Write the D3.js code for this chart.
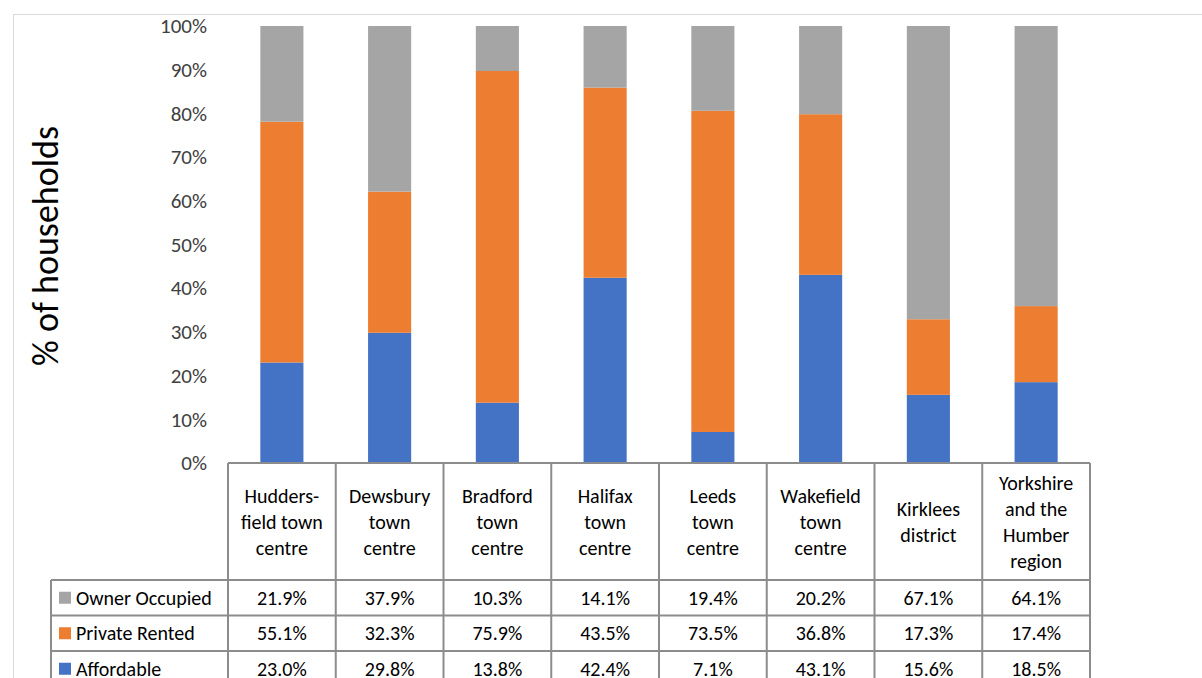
<!DOCTYPE html>
<html>
<head>
<meta charset="utf-8">
<script src="https://cdn.jsdelivr.net/npm/d3@7"></script>
<style>
  body { margin: 0; background: #fff; }
  svg { font-family: Calibri, Carlito, Lato, "Noto Sans", sans-serif; }
</style>
</head>
<body>
<svg id="chart" width="1202" height="678"></svg>
<script>
// categories, each one a list of header lines
var categories = [
    ["Hudders-", "field town", "centre"],
    ["Dewsbury", "town", "centre"],
    ["Bradford", "town", "centre"],
    ["Halifax", "town", "centre"],
    ["Leeds", "town", "centre"],
    ["Wakefield", "town", "centre"],
    ["Kirklees", "district"],
    ["Yorkshire", "and the", "Humber", "region"]
];
var seriesNames = ["Owner Occupied", "Private Rented", "Affordable"];
var ownerOccupied = [21.9, 37.9, 10.3, 14.1, 19.4, 20.2, 67.1, 64.1];
var privateRented = [55.1, 32.3, 75.9, 43.5, 73.5, 36.8, 17.3, 17.4];
var affordable    = [23.0, 29.8, 13.8, 42.4, 7.1, 43.1, 15.6, 18.5];
var yTicks = [0, 10, 20, 30, 40, 50, 60, 70, 80, 90, 100];

var colors = {
    "Owner Occupied": "#a5a5a5",
    "Private Rented": "#ed7d31",
    "Affordable": "#4472c4"
};

var svg = d3.select("#chart");

// outer chart frame
svg.append("rect")
    .attr("x", 13.5).attr("y", 14.5)
    .attr("width", 1202).attr("height", 700)
    .attr("fill", "none")
    .attr("stroke", "#d9d9d9")
    .attr("stroke-width", 1);

var plotLeft = 228, plotRight = 1090, plotTop = 26, plotBottom = 463;
var fontSize = 20;

var x = d3.scaleBand()
    .domain(d3.range(categories.length))
    .range([plotLeft, plotRight])
    .paddingInner(0).paddingOuter(0);

var y = d3.scaleLinear().domain([0, 100]).range([plotBottom, plotTop]);

// rows of data, one object per category
var rows = categories.map(function(c, i) {
    return {
        i: i,
        "Affordable": affordable[i],
        "Private Rented": privateRented[i],
        "Owner Occupied": ownerOccupied[i]
    };
});

var stack = d3.stack()
    .keys(["Affordable", "Private Rented", "Owner Occupied"])
    .offset(d3.stackOffsetExpand);
var layers = stack(rows);

var barW = x.bandwidth() * 0.4;

svg.append("g").selectAll("g")
    .data(layers)
    .join("g")
    .attr("fill", function(d) { return colors[d.key]; })
    .selectAll("rect")
    .data(function(d) { return d; })
    .join("rect")
    .attr("x", function(d) { return x(d.data.i) + (x.bandwidth() - barW) / 2; })
    .attr("width", barW)
    .attr("y", function(d) { return y(d[1] * 100); })
    .attr("height", function(d) { return y(d[0] * 100) - y(d[1] * 100); });

// y axis labels (no line, no ticks)
var yAxis = d3.axisLeft(y)
    .tickValues(yTicks)
    .tickSize(0)
    .tickPadding(0)
    .tickFormat(function(d) { return d + "%"; });

var ya = svg.append("g")
    .attr("transform", "translate(207,0)")
    .call(yAxis);
ya.select(".domain").remove();
ya.selectAll("text")
    .attr("font-size", 21)
    .attr("fill", "#404040")
    .attr("font-family", "Calibri, Carlito, Lato, sans-serif");

// y axis title
svg.append("text")
    .attr("transform", "translate(58,246) rotate(-90)")
    .attr("text-anchor", "middle")
    .attr("font-size", 36)
    .attr("fill", "#000")
    .text("% of households");

// data table
var headerTop = 463, headerBottom = 580, rowH = 35.5;
var legendLeft = 51;
var lineColor = "#8c8c8c";
var tableG = svg.append("g");

var seriesValues = {
    "Owner Occupied": ownerOccupied,
    "Private Rented": privateRented,
    "Affordable": affordable
};

// header labels
categories.forEach(function(lines, i) {
    var cx = x(i) + x.bandwidth() / 2;
    var cy = (headerTop + headerBottom) / 2;
    var lh = 26;
    var t = tableG.append("text")
        .attr("text-anchor", "middle")
        .attr("font-size", fontSize)
        .attr("fill", "#000");
    lines.forEach(function(l, k) {
        t.append("tspan")
            .attr("x", cx)
            .attr("y", cy + (k - (lines.length - 1) / 2) * lh + 7)
            .text(l);
    });
});

// value rows
seriesNames.forEach(function(name, r) {
    var ry = headerBottom + r * rowH;
    tableG.append("rect")
        .attr("x", legendLeft + 8).attr("y", ry + rowH / 2 - 6)
        .attr("width", 12).attr("height", 12)
        .attr("fill", colors[name]);
    tableG.append("text")
        .attr("x", legendLeft + 25)
        .attr("y", ry + rowH / 2 + 7)
        .attr("font-size", fontSize)
        .attr("fill", "#000")
        .text(name);
    seriesValues[name].forEach(function(v, i) {
        tableG.append("text")
            .attr("x", x(i) + x.bandwidth() / 2)
            .attr("y", ry + rowH / 2 + 7)
            .attr("text-anchor", "middle")
            .attr("font-size", fontSize)
            .attr("fill", "#000")
            .text(v.toFixed(1) + "%");
    });
});

// table grid lines
var tableBottom = headerBottom + seriesNames.length * rowH;
var grid = tableG.append("g")
    .attr("stroke", lineColor)
    .attr("stroke-width", 2)
    .attr("fill", "none");

grid.append("line")
    .attr("x1", plotLeft).attr("x2", plotRight)
    .attr("y1", headerTop).attr("y2", headerTop);
d3.range(seriesNames.length + 1).forEach(function(r) {
    var yy = headerBottom + r * rowH;
    grid.append("line")
        .attr("x1", legendLeft).attr("x2", plotRight)
        .attr("y1", yy).attr("y2", yy);
});
d3.range(categories.length + 1).forEach(function(i) {
    var xx = plotLeft + i * x.bandwidth();
    grid.append("line")
        .attr("x1", xx).attr("x2", xx)
        .attr("y1", headerTop).attr("y2", tableBottom);
});
grid.append("line")
    .attr("x1", legendLeft).attr("x2", legendLeft)
    .attr("y1", headerBottom).attr("y2", tableBottom);
</script>
</body>
</html>
